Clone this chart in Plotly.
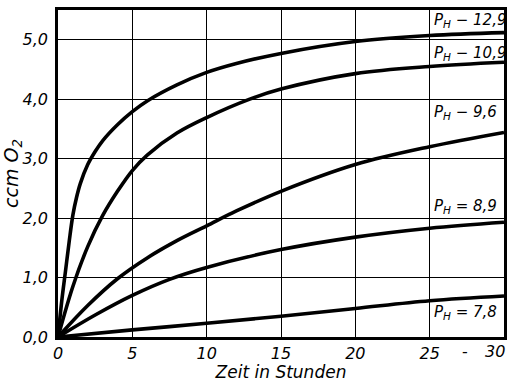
import plotly.graph_objects as go

# Sauerstoffaufnahme (ccm O2) über der Zeit für verschiedene pH-Werte
ph_labels = ["12,9", "10,9", "9,6", "8,9", "7,8"]
label_sign = ["\u2212", "\u2212", "\u2212", "=", "="]

t_129 = [0, 0.25, 0.5, 0.75, 1, 1.25, 1.5, 2, 2.5, 3, 4, 5, 6, 8, 10, 12, 15, 20, 25, 30]
v_129 = [0, 0.6, 1.1, 1.6, 2.05, 2.35, 2.58, 2.9, 3.12, 3.3, 3.57, 3.79, 3.97, 4.24,
         4.45, 4.6, 4.77, 4.97, 5.07, 5.12]

t_109 = [0, 1, 2, 3, 4, 5, 6, 8, 10, 12.9, 15, 20, 25, 30]
v_109 = [0, 0.85, 1.52, 2.04, 2.45, 2.8, 3.06, 3.43, 3.69, 4.0, 4.17, 4.43, 4.55, 4.62]

t_96 = [0, 2, 4, 6, 8, 10, 12, 15, 20, 25, 30]
v_96 = [0, 0.53, 0.98, 1.33, 1.62, 1.87, 2.12, 2.45, 2.9, 3.2, 3.44]

t_89 = [0, 2.5, 5, 7.5, 10, 15, 20, 25, 30]
v_89 = [0, 0.37, 0.70, 0.97, 1.17, 1.47, 1.68, 1.83, 1.93]

t_78 = [0, 5, 10, 15, 20, 25, 30]
v_78 = [0, 0.12, 0.23, 0.35, 0.48, 0.61, 0.69]

x_ticks = [0, 5, 10, 15, 20, 25]
y_ticks = [0, 1, 2, 3, 4, 5]
y_ticktext = ["0,0", "1,0", "2,0", "3,0", "4,0", "5,0"]

# label anchor heights (data units) for each curve label
label_y = [5.33, 4.77, 3.77, 2.20, 0.42]

series = [(t_129, v_129), (t_109, v_109), (t_96, v_96), (t_89, v_89), (t_78, v_78)]

FONT = "DejaVu Sans"

fig = go.Figure()
for (t, v) in series:
    fig.add_trace(go.Scatter(
        x=t, y=v, mode="lines",
        line=dict(color="black", width=3.6, shape="spline", smoothing=1.0),
        showlegend=False, hoverinfo="skip",
    ))

for txt, sign, yy in zip(ph_labels, label_sign, label_y):
    fig.add_annotation(
        x=25.15, y=yy, xref="x", yref="y", xanchor="left", yanchor="middle",
        text=f"<i>P<sub>H</sub> {sign} {txt}</i>", showarrow=False,
        font=dict(family=FONT, size=15, color="black"),
    )

# last x tick label, kept inside the page at the right edge
fig.add_annotation(
    x=30, y=0, xref="x", yref="y", xanchor="right", yanchor="top",
    yshift=-3, xshift=3, text="<i>30</i>", showarrow=False,
    font=dict(family=FONT, size=16, color="black"),
)
# small dash between the 25 and 30 tick labels
fig.add_annotation(
    x=27.4, y=0, xref="x", yref="y", yanchor="top", yshift=-3,
    text="-", showarrow=False,
    font=dict(family=FONT, size=16, color="black"),
)

fig.update_xaxes(
    range=[0, 30], tickvals=x_ticks, ticktext=[f"<i>{x}</i>" for x in x_ticks],
    showgrid=True, gridcolor="black", gridwidth=1.2,
    showline=True, linecolor="black", linewidth=2.5, mirror=True,
    ticks="", zeroline=False,
    tickfont=dict(family=FONT, size=16, color="black"),
    title=dict(text="<i>Zeit in Stunden</i>", standoff=2,
               font=dict(family=FONT, size=17, color="black")),
)
fig.update_yaxes(
    range=[0, 5.5], tickvals=y_ticks, ticktext=[f"<i>{s}</i>" for s in y_ticktext],
    showgrid=True, gridcolor="black", gridwidth=1.2,
    showline=True, linecolor="black", linewidth=2.5, mirror=True,
    ticks="", zeroline=False, ticklabelstandoff=4,
    tickfont=dict(family=FONT, size=16, color="black"),
    title=dict(text="<i>ccm O<sub>2</sub></i>", standoff=4,
               font=dict(family=FONT, size=19, color="black")),
)

fig.update_layout(
    width=512, height=382,
    margin=dict(l=57, r=5, t=10, b=42),
    paper_bgcolor="white", plot_bgcolor="white",
)

fig.write_html("out.html")
